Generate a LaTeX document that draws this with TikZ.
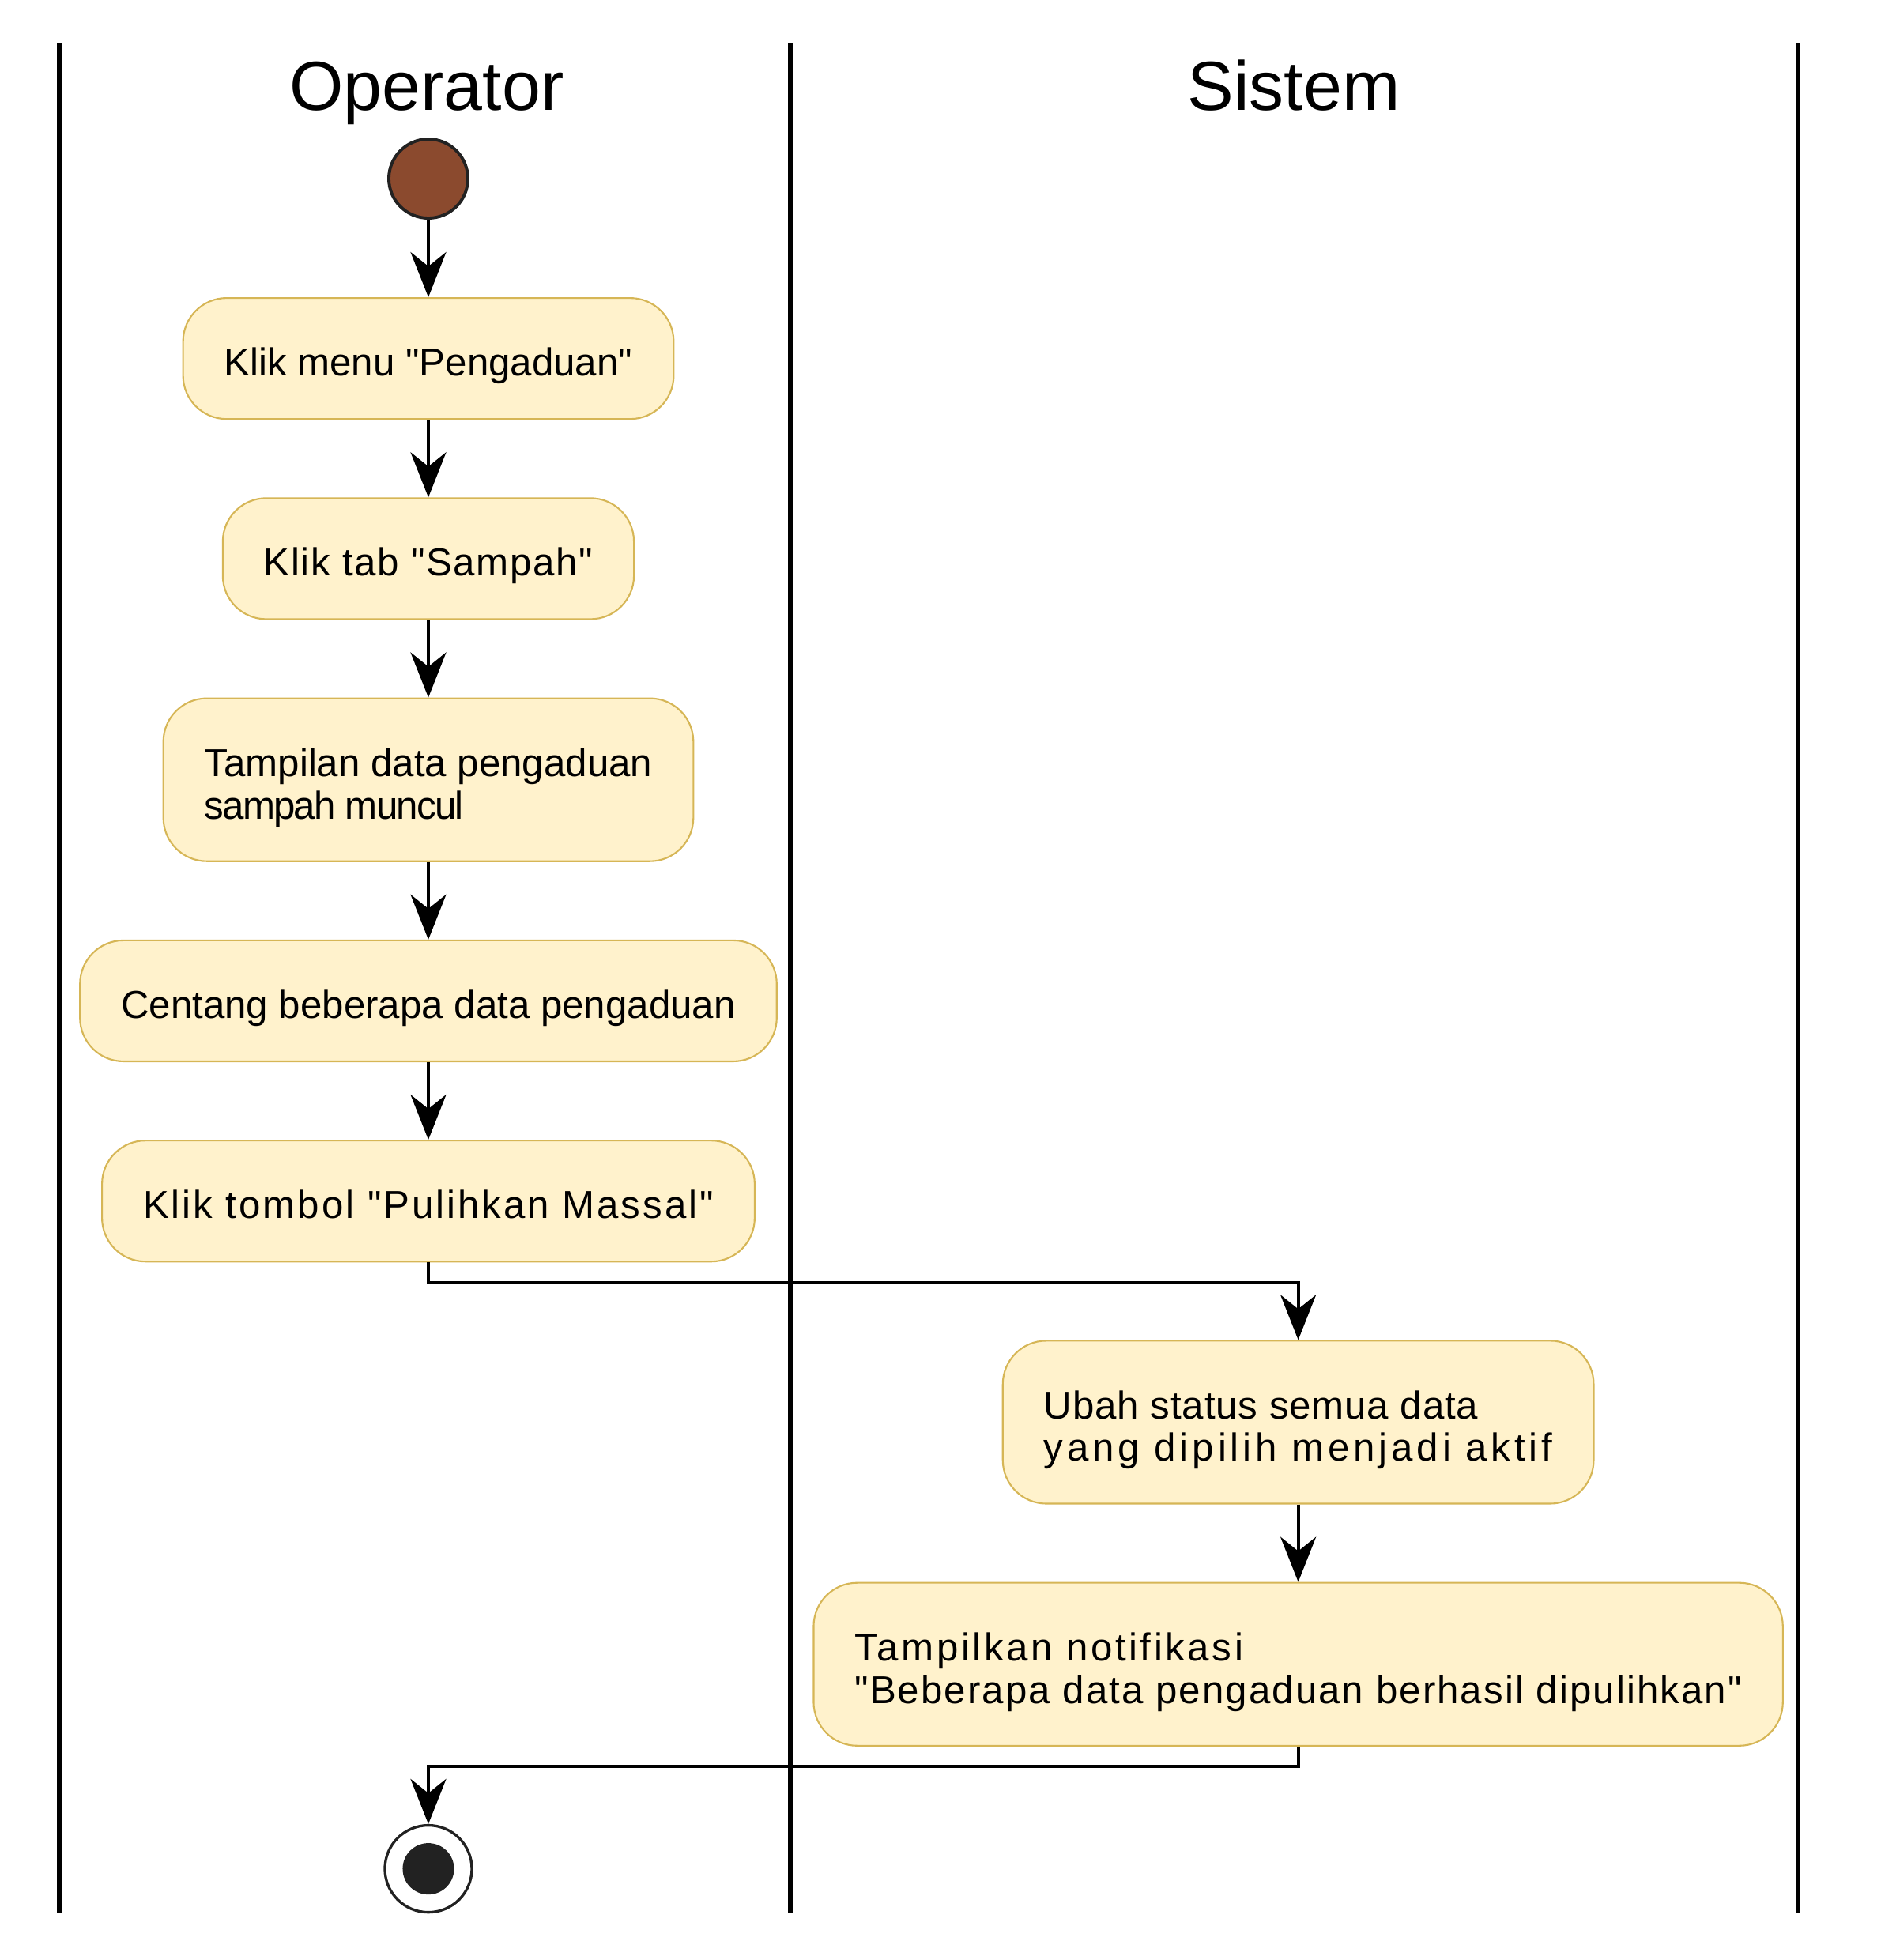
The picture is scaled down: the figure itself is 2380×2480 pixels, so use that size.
\documentclass[tikz,border=0pt]{standalone}
\usepackage{fontspec}
\setmainfont{Liberation Sans}[Ligatures=TeXOff]
\usetikzlibrary{positioning,arrows.meta}

\definecolor{actfill}{HTML}{FFF2CC}
\definecolor{actline}{HTML}{D6B656}
\definecolor{startfill}{HTML}{8B4A2E}
\definecolor{dark}{HTML}{222222}

\newcommand{\ls}[2]{{\addfontfeature{LetterSpace=#1}#2}}

\begin{document}
\begin{tikzpicture}[x = 0.01cm, y = -0.01cm, node distance = 0.98cm,
    act/.style = {draw = actline, fill = actfill, rounded corners = 0.55cm, line width = 0.6pt,
        inner xsep = 0.52cm, minimum height = 1.53cm, text height = 0.44cm, text depth = 0pt,
        font = \fontsize{14}{15.2}\selectfont},
    act2/.style = {act, align = left, minimum height = 2.06cm, text height = 0.99cm},
    startdot/.style = {circle, draw = dark, fill = startfill, line width = 1.1pt, minimum size = 1cm, inner sep = 0pt},
    endring/.style = {circle, draw = dark, fill = white, line width = 0.95pt, minimum size = 1.1cm, inner sep = 0pt},
    enddot/.style = {circle, fill = dark, minimum size = 0.65cm, inner sep = 0pt},
    flow/.style = {-{Stealth[length = 0.57cm, width = 0.45cm, inset = 0.18cm]}, line width = 1.15pt},
    lane/.style = {line width = 1.9pt},
    lanetitle/.style = {font = \fontsize{25}{30}\selectfont, anchor = base}]

    \useasboundingbox (0,0) rectangle (2380,2480);

    \foreach \lx in {75, 1000, 2275}
        \draw [lane] (\lx,55) -- (\lx,2421);

    \node [lanetitle] (operator) at (540,139) {Operator};
    \node [lanetitle] (sistem) at (1637,139) {Sistem};

    \node [startdot] (start) at (542,226) {};
    \node [act, below = of start] (menu) {Klik menu "Pengaduan"};
    \node [act, below = of menu] (tab) {\ls{3.3}{Klik tab "Sampah"}};
    \node [act2, below = of tab] (tampil) {Tampilan data pengaduan\\\ls{-3.6}{sampah muncul}};
    \node [act, below = of tampil] (centang) {Centang beberapa data pengaduan};
    \node [act, below = of centang] (pulih) {\ls{6}{Klik tombol "Pulihkan Massal"}};
    \node [act2, below = of pulih, xshift = 11cm] (ubah) {\ls{1.8}{Ubah status semua data}\\\ls{9.9}{yang dipilih menjadi aktif}};
    \node [act2, below = of ubah] (notif) {\ls{7.3}{Tampilkan notifikasi}\\\ls{4.2}{"Beberapa data pengaduan berhasil dipulihkan"}};
    \node [endring, below = of notif, xshift = -11cm] (stop) {};
    \node [enddot] (stopdot) at (stop) {};

    \draw [flow] (start) -- (menu);
    \draw [flow] (menu) -- (tab);
    \draw [flow] (tab) -- (tampil);
    \draw [flow] (tampil) -- (centang);
    \draw [flow] (centang) -- (pulih);
    \draw [flow] (pulih.south) -- ++(0,26) -| (ubah.north);
    \draw [flow] (ubah) -- (notif);
    \draw [flow] (notif.south) -- ++(0,25) -| (stop.north);

\end{tikzpicture}
\end{document}
